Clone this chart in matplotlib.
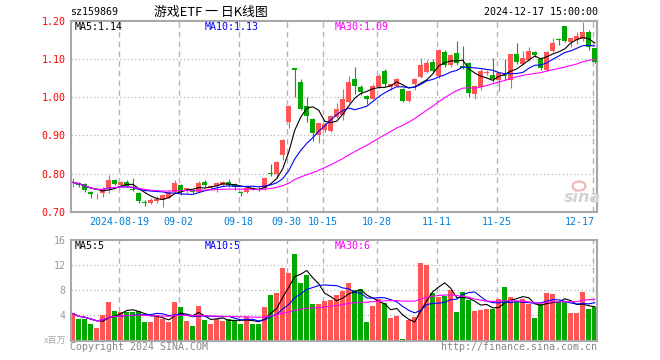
import numpy as np
import pandas as pd
import matplotlib
matplotlib.use("Agg")
import matplotlib.pyplot as plt
from matplotlib.patches import Ellipse

# daily candles 2024-08-07 .. 2024-12-17
opens = [0.775, 0.775, 0.773, 0.752, 0.743, 0.749, 0.763, 0.783, 0.771, 0.777,
         0.760, 0.750, 0.726, 0.724, 0.727, 0.731, 0.737, 0.752, 0.770, 0.755,
         0.755, 0.753, 0.778, 0.763, 0.768, 0.771, 0.779, 0.772, 0.752, 0.752,
         0.761, 0.760, 0.761, 0.801, 0.800, 0.850, 0.935, 1.077, 1.041, 0.978,
         0.943, 0.901, 0.915, 0.912, 0.948, 0.955, 0.988, 1.048, 1.028, 1.004,
         0.997, 1.028, 1.070, 1.026, 1.031, 1.022, 0.991, 1.034, 1.054, 1.067,
         1.094, 1.056, 1.120, 1.085, 1.116, 1.082, 1.090, 1.008, 1.026, 1.064,
         1.059, 1.045, 1.060, 1.046, 1.113, 1.088, 1.098, 1.120, 1.101, 1.073,
         1.122, 1.152, 1.187, 1.146, 1.151, 1.152, 1.172, 1.129]
highs = [0.788, 0.777, 0.775, 0.754, 0.749, 0.766, 0.796, 0.786, 0.781, 0.783,
         0.788, 0.752, 0.732, 0.736, 0.740, 0.747, 0.756, 0.783, 0.772, 0.763,
         0.757, 0.781, 0.783, 0.770, 0.779, 0.781, 0.786, 0.775, 0.755, 0.766,
         0.764, 0.764, 0.790, 0.824, 0.833, 0.890, 0.980, 1.078, 1.049, 1.000,
         0.945, 0.934, 0.935, 0.955, 0.985, 1.022, 1.055, 1.081, 1.032, 1.006,
         1.036, 1.062, 1.075, 1.036, 1.052, 1.025, 1.020, 1.050, 1.104, 1.099,
         1.100, 1.128, 1.124, 1.114, 1.147, 1.136, 1.092, 1.033, 1.075, 1.072,
         1.104, 1.066, 1.102, 1.114, 1.142, 1.122, 1.132, 1.123, 1.105, 1.122,
         1.157, 1.155, 1.188, 1.157, 1.172, 1.199, 1.177, 1.130]
lows = [0.766, 0.764, 0.752, 0.737, 0.733, 0.739, 0.750, 0.770, 0.768, 0.764,
        0.755, 0.724, 0.715, 0.720, 0.722, 0.713, 0.735, 0.750, 0.744, 0.750,
        0.748, 0.751, 0.764, 0.760, 0.752, 0.768, 0.765, 0.757, 0.740, 0.748,
        0.756, 0.755, 0.758, 0.795, 0.788, 0.836, 0.919, 1.001, 0.968, 0.935,
        0.886, 0.881, 0.910, 0.910, 0.945, 0.941, 0.985, 1.009, 1.005, 0.982,
        0.995, 1.025, 1.030, 1.019, 1.028, 0.988, 0.988, 1.020, 1.050, 1.063,
        1.065, 1.050, 1.080, 1.080, 1.085, 1.074, 1.002, 0.995, 1.020, 1.058,
        1.040, 1.017, 1.045, 1.025, 1.087, 1.085, 1.095, 1.105, 1.072, 1.070,
        1.120, 1.138, 1.145, 1.133, 1.140, 1.148, 1.124, 1.090]
closes = [0.777, 0.770, 0.756, 0.746, 0.745, 0.756, 0.783, 0.774, 0.778, 0.767,
          0.757, 0.727, 0.724, 0.731, 0.734, 0.744, 0.752, 0.776, 0.753, 0.761,
          0.752, 0.775, 0.770, 0.767, 0.776, 0.779, 0.769, 0.764, 0.749, 0.763,
          0.759, 0.758, 0.788, 0.799, 0.831, 0.888, 0.978, 1.073, 0.970, 0.950,
          0.906, 0.932, 0.929, 0.952, 0.970, 0.996, 1.041, 1.031, 1.013, 0.997,
          1.031, 1.057, 1.034, 1.034, 1.048, 0.991, 1.017, 1.047, 1.084, 1.091,
          1.069, 1.124, 1.086, 1.110, 1.090, 1.078, 1.012, 1.030, 1.069, 1.066,
          1.047, 1.064, 1.055, 1.113, 1.094, 1.104, 1.122, 1.110, 1.076, 1.120,
          1.142, 1.150, 1.148, 1.155, 1.162, 1.172, 1.133, 1.093]
volumes = [4.3, 3.4, 3.4, 2.6, 2.0, 4.0, 6.1, 4.7, 4.5, 4.6,
           4.6, 4.7, 3.0, 3.0, 4.0, 3.4, 3.0, 6.1, 5.3, 3.1,
           2.3, 5.5, 3.3, 2.6, 3.5, 3.1, 3.5, 3.3, 2.7, 3.7,
           2.6, 2.7, 5.3, 7.3, 7.6, 11.5, 10.7, 13.8, 9.2, 10.5,
           5.8, 5.8, 6.3, 6.5, 7.2, 7.9, 9.2, 8.0, 8.2, 2.9,
           5.5, 6.6, 5.9, 3.6, 3.9, 0.3, 3.2, 3.8, 12.3, 12.0,
           7.5, 7.0, 7.1, 8.0, 4.5, 7.7, 6.4, 4.7, 4.9, 5.0,
           5.0, 6.6, 8.5, 7.0, 6.2, 6.6, 5.8, 3.6, 5.8, 7.6,
           7.4, 6.2, 6.2, 4.4, 4.4, 7.7, 5.0, 5.4]

tick_idx = [8, 18, 28, 36, 42, 51, 61, 71, 87]
tick_labels = ["2024-08-19", "09-02", "09-18", "09-30", "10-15", "10-28",
               "11-11", "11-25", "12-17"]
price_ticks = [0.70, 0.80, 0.90, 1.00, 1.10, 1.20]
vol_ticks = [4, 8, 12, 16]
ma_periods = [5, 10, 30]
ma_colors = ["black", "#0000ff", "#ff00ff"]
price_ma_text = ["MA5:1.14", "MA10:1.13", "MA30:1.09"]
vol_ma_text = ["MA5:5", "MA10:5", "MA30:6"]

RED = "#ff5555"
GREEN = "#00a800"
GRID = "#b4b4b4"
MONO = "DejaVu Sans Mono"
FS = 7.2

plt.rcParams["font.family"] = [MONO, "Noto Sans CJK SC"]

W, H = 660, 360


def fx(px):
    return px / W


def fy(py):
    return 1 - py / H


o = np.array(opens)
h = np.array(highs)
l = np.array(lows)
c = np.array(closes)
v = np.array(volumes)
x = np.arange(len(c))
colors = np.where(c >= o, RED, GREEN)

fig = plt.figure(figsize=(6.6, 3.6), dpi=100)
ax = fig.add_axes([fx(70.7), fy(211.7), (597 - 70.7) / W, (211.7 - 21.2) / H])
axv = fig.add_axes([fx(70.7), fy(340.5), (597 - 70.7) / W, (340.5 - 240) / H])

for a in (ax, axv):
    a.set_xlim(-0.35, 87.38)
    for s in a.spines.values():
        s.set_color("#a8a8a8")
        s.set_linewidth(1.5)
    for t in tick_idx:
        a.axvline(t - 0.33, color=GRID, lw=1, ls=(0, (4, 3)), zorder=0)
    a.set_xticks([])
    a.tick_params(length=0, pad=3.5)

# price panel
ax.set_ylim(0.70, 1.20)
for g in price_ticks[1:-1]:
    ax.axhline(g, color=GRID, lw=0.9, ls=(0, (1, 2)), zorder=0)
ax.set_yticks(price_ticks)
ax.set_yticklabels([f"{p:.2f}" for p in price_ticks], color="#ff0000",
                   fontsize=FS, fontfamily=MONO)

ax.vlines(x, l, h, colors=colors, lw=0.8, zorder=2)
ax.bar(x, np.maximum(np.abs(c - o), 0.0016), 0.8, bottom=np.minimum(o, c),
       color=colors, lw=0, zorder=3)

cs = pd.Series(c)
for n, col in zip(ma_periods, ma_colors):
    ax.plot(x, cs.rolling(n, min_periods=1).mean(), color=col, lw=0.8, zorder=4)

# volume panel
axv.set_ylim(0, 16)
for g in vol_ticks[:-1]:
    axv.axhline(g, color=GRID, lw=0.9, ls=(0, (1, 2)), zorder=0)
axv.set_yticks(vol_ticks)
axv.set_yticklabels([str(t) for t in vol_ticks], color="#999999",
                    fontsize=FS, fontfamily=MONO)
axv.bar(x, v, 0.8, color=colors, lw=0, zorder=2)
vs = pd.Series(v)
for n, col in zip(ma_periods, ma_colors):
    axv.plot(x, vs.rolling(n, min_periods=1).mean(), color=col, lw=0.8, zorder=4)

# date labels
for t, lab in zip(tick_idx, tick_labels):
    if t == tick_idx[-1]:
        ax.text(t, -0.052, lab, transform=ax.get_xaxis_transform(), ha="right",
                va="center", color="#0080dc", fontsize=FS)
    else:
        ax.text(t - 0.33, -0.052, lab, transform=ax.get_xaxis_transform(),
                ha="center", va="center", color="#0080dc", fontsize=FS)

# MA labels
for px, txt, col in zip([75, 205, 335], price_ma_text, ma_colors):
    fig.text(fx(px), fy(26.7), txt, color=col, fontsize=FS, ha="left", va="center")
for px, txt, col in zip([75, 205, 335], vol_ma_text, ma_colors):
    fig.text(fx(px), fy(246), txt, color=col, fontsize=FS, ha="left", va="center")

# header
fig.text(fx(70), fy(12), "sz159869", fontsize=FS, ha="left", va="center")
fig.text(fx(211), fy(12.5), "游戏ETF 一 日K线图", fontsize=9.3, ha="center",
         va="center", family=["Noto Sans CJK SC", "DejaVu Sans"])
fig.text(fx(598), fy(12), "2024-12-17 15:00:00", fontsize=FS, ha="right", va="center")

# footer
fig.text(fx(70), fy(346.5), "Copyright 2024 SINA.COM", fontsize=FS, color="#888888",
         ha="left", va="center")
fig.text(fx(597.5), fy(346.5), "http://finance.sina.com.cn", fontsize=FS,
         color="#888888", ha="right", va="center")
fig.text(fx(66), fy(340), "x百万", fontsize=6.5, color="#aaaaaa", ha="right",
         va="center", family=["Noto Sans CJK SC", "DejaVu Sans"])

# sina watermark
fig.text(fx(582), fy(197), "sina", fontsize=11.5, style="italic", weight="bold",
         color="#d2d2d2", ha="center", va="center", family="DejaVu Sans")
fig.patches.append(Ellipse((fx(579), fy(186)), 13 / W, 9 / H, transform=fig.transFigure,
                           fill=False, ec="#f2b4b4", lw=1.5))

fig.savefig("out.png", dpi=100)
